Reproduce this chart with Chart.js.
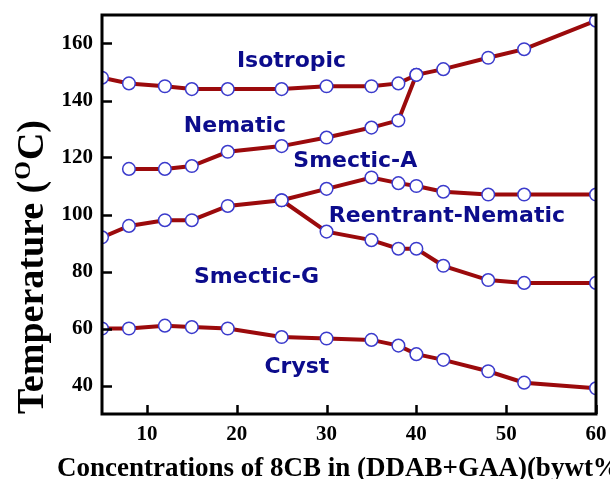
<!DOCTYPE html>
<html>
<head>
<meta charset="utf-8">
<script src="https://cdn.jsdelivr.net/npm/chart.js@4/dist/chart.umd.min.js"></script>
<style>
  html, body { margin: 0; padding: 0; background: #fff; }
  #wrap { width: 610px; height: 479px; }
</style>
</head>
<body>
<div id="wrap"><canvas id="phaseChart" width="610" height="479"></canvas></div>
<script>
// 8CB concentration (wt%) and transition temperatures (degC)
var concFull = [5, 8, 12, 15, 19, 25, 30, 35, 38, 40, 43, 48, 52, 60];
var isoNem = [148, 146, 145, 144, 144, 144, 145, 145, 146, 149, 151, 155, 158, 168];
var smaTop = [92, 96, 98, 98, 103, 105, 109, 113, 111, 110, 108, 107, 107, 107];
var cryst = [60, 60, 61, 60.5, 60, 57, 56.5, 56, 54, 51, 49, 45, 41, 39];

var concNemSma = [8, 12, 15, 19, 25, 30, 35, 38, 40];
var nemSma = [116, 116, 117, 122, 124, 127, 130.5, 133, 149];

var concSmg = [25, 30, 35, 38, 40, 43, 48, 52, 60];
var reSmg = [105, 94, 91, 88, 88, 82, 77, 76, 76];

var xTicks = [10, 20, 30, 40, 50, 60];
var yTicks = [40, 60, 80, 100, 120, 140, 160];

// phase names, anchored at [conc, temp] (text baseline)
var phaseNames = ['Isotropic', 'Nematic', 'Smectic-A', 'Reentrant-Nematic', 'Smectic-G', 'Cryst'];
var phaseAt = [[26.1, 151.6], [19.8, 129.1], [33.2, 116.8], [43.4, 97.5], [22.2, 75.8], [26.7, 44.4]];

function pts(xs, ys) {
    return xs.map(function(x, i) { return { x: x, y: ys[i] }; });
}

function series(xs, ys) {
    return {
        data: pts(xs, ys),
        borderColor: '#9b0a0c',
        borderWidth: 4,
        pointRadius: 6.3,
        pointHoverRadius: 6.3,
        pointBackgroundColor: '#ffffff',
        pointBorderColor: '#3b3bcc',
        pointBorderWidth: 1.5,
        tension: 0,
        clip: 0
    };
}

var serif = "'Liberation Serif', 'Times New Roman', serif";

function noPad(s) {
    s.paddingTop = 0;
    s.paddingBottom = 0;
    s.paddingLeft = 0;
    s.paddingRight = 0;
}

var framePlugin = {
    id: 'frame',
    afterDraw: function(chart) {
        var ctx = chart.ctx;
        var a = chart.chartArea;
        var xs = chart.scales.x, ys = chart.scales.y;
        ctx.save();

        // region labels
        ctx.fillStyle = '#0c0c8c';
        ctx.font = "bold 22px 'DejaVu Sans', Verdana, sans-serif";
        ctx.textAlign = 'center';
        ctx.textBaseline = 'alphabetic';
        phaseNames.forEach(function(name, i) {
            ctx.fillText(name, xs.getPixelForValue(phaseAt[i][0]), ys.getPixelForValue(phaseAt[i][1]));
        });

        // inside tick marks
        ctx.strokeStyle = '#000';
        ctx.lineWidth = 2.5;
        ctx.beginPath();
        yTicks.forEach(function(v) {
            var py = Math.round(ys.getPixelForValue(v)) + 0.5;
            ctx.moveTo(a.left, py);
            ctx.lineTo(a.left + 10, py);
        });
        xTicks.forEach(function(v) {
            var px = Math.round(xs.getPixelForValue(v)) + 0.5;
            ctx.moveTo(px, a.bottom);
            ctx.lineTo(px, a.bottom - 9);
        });
        ctx.stroke();

        // box
        ctx.lineWidth = 3;
        ctx.strokeRect(a.left, a.top, a.right - a.left, a.bottom - a.top);

        // axis titles
        ctx.fillStyle = '#000';
        ctx.textAlign = 'left';
        ctx.font = 'bold 27px ' + serif;
        ctx.fillText('Concentrations of 8CB in (DDAB+GAA)(bywt%)', 57, 476);

        var big = 'bold 38px ' + serif, small = 'bold 24px ' + serif;
        ctx.font = big;
        var w1 = ctx.measureText('Temperature (').width;
        var w3 = ctx.measureText('C)').width;
        ctx.font = small;
        var w2 = ctx.measureText('O').width + 2;
        var total = w1 + w2 + w3;
        ctx.translate(43, 267);
        ctx.rotate(-Math.PI / 2);
        var sx = -total / 2;
        ctx.font = big;
        ctx.fillText('Temperature (', sx, 0);
        ctx.font = small;
        ctx.fillText('O', sx + w1 + 1, -13);
        ctx.font = big;
        ctx.fillText('C)', sx + w1 + w2, 0);
        ctx.restore();
    }
};

var chart = new Chart(document.getElementById('phaseChart').getContext('2d'), {
    type: 'line',
    data: {
        datasets: [
            series(concFull, isoNem),
            series(concNemSma, nemSma),
            series(concFull, smaTop),
            series(concSmg, reSmg),
            series(concFull, cryst)
        ]
    },
    options: {
        responsive: false,
        animation: false,
        events: [],
        layout: { padding: { top: 15, right: 14, left: 0, bottom: 0 } },
        plugins: {
            legend: { display: false },
            tooltip: { enabled: false }
        },
        scales: {
            x: {
                type: 'linear',
                min: 5,
                max: 60,
                grid: { display: false, drawTicks: false },
                border: { display: false },
                ticks: {
                    color: '#000',
                    padding: 8,
                    font: { family: serif, size: 21, weight: 'bold' }
                },
                afterBuildTicks: function(s) {
                    s.ticks = xTicks.map(function(v) { return { value: v }; });
                },
                afterFit: function(s) { s.height = 65; noPad(s); }
            },
            y: {
                type: 'linear',
                min: 30,
                max: 170,
                grid: { display: false, drawTicks: false },
                border: { display: false },
                ticks: {
                    color: '#000',
                    padding: 9,
                    font: { family: serif, size: 21, weight: 'bold' }
                },
                afterBuildTicks: function(s) {
                    s.ticks = yTicks.map(function(v) { return { value: v }; });
                },
                afterFit: function(s) { s.width = 102; noPad(s); }
            }
        }
    },
    plugins: [framePlugin]
});
</script>
</body>
</html>
